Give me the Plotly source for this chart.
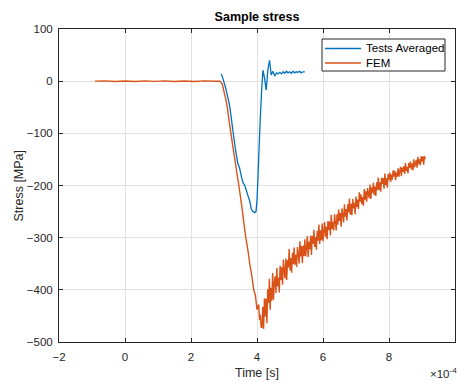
import numpy as np
import plotly.graph_objects as go

# ---- Data (time in units of 1e-4 s, stress in MPa) ----
TIME_SCALE = 1e-4

# FEM: quiet pre-load segment and loading ramp
fem_head_time = [-0.91, -0.6, -0.3, 0.0, 0.3, 0.6, 0.9, 1.2, 1.5, 1.8, 2.1, 2.4, 2.7, 2.88,
                 2.95, 3.0, 3.05, 3.1, 3.15, 3.21, 3.27, 3.33, 3.39, 3.45, 3.5, 3.56, 3.61,
                 3.66, 3.72, 3.78, 3.84, 3.9, 3.95, 4.0, 4.05, 4.08, 4.1, 4.125]
fem_head_stress = [0, 0.6, -0.5, 0.4, -0.6, 0.5, -0.4, 0.6, -0.5, 0.4, -0.6, 0.5, -0.3, 0,
                   -6, -20, -33, -50, -74, -100, -126, -150, -176, -200, -222, -250, -276,
                   -300, -322, -350, -372, -400, -410, -438, -428, -458, -448, -472]

# FEM: unloading response, sampled every 0.025e-4 s from 4.15e-4 s
FEM_TAIL_T0 = 4.15
FEM_TAIL_DT = 0.025
fem_tail_stress = [
    -472, -433, -475, -416, -451, -417, -464, -399, -425, -379,
    -438, -396, -421, -368, -419, -387, -374, -406, -358, -393,
    -377, -405, -354, -381, -357, -390, -342, -364, -378, -340,
    -381, -343, -357, -322, -363, -339, -367, -329, -351, -319,
    -352, -333, -356, -318, -331, -350, -307, -336, -316, -349,
    -315, -335, -303, -336, -319, -297, -337, -308, -322, -296,
    -333, -297, -312, -285, -318, -299, -323, -287, -306, -275,
    -312, -286, -305, -273, -307, -287, -270, -298, -279, -303,
    -268, -285, -269, -296, -256, -283, -270, -286, -255, -271,
    -286, -255, -275, -246, -268, -253, -279, -244, -257, -271,
    -236, -260, -245, -267, -236, -251, -225, -256, -235, -257,
    -226, -244, -233, -255, -221, -241, -227, -245, -213, -231,
    -217, -236, -222, -239, -207, -227, -211, -231, -205, -215,
    -224, -198, -226, -204, -214, -195, -218, -202, -220, -194,
    -209, -185, -209, -194, -212, -185, -197, -186, -206, -177,
    -199, -186, -204, -178, -189, -175, -193, -179, -189, -171,
    -183, -172, -190, -175, -183, -167, -183, -173, -164, -182,
    -166, -174, -163, -178, -157, -172, -164, -177, -157, -166,
    -154, -169, -158, -171, -150, -165, -158, -151, -166, -145,
    -159, -150, -161, -144, -154, -144, -160, -144, -149,
]

# Averaged test measurements
test_time = [2.92, 2.99, 3.05, 3.12, 3.17, 3.22, 3.27, 3.32, 3.37, 3.42, 3.47, 3.53, 3.58,
             3.63, 3.68, 3.73, 3.78, 3.83, 3.88, 3.93, 3.97, 4.00, 4.03, 4.06, 4.10, 4.14,
             4.18, 4.23, 4.28, 4.33, 4.38, 4.43, 4.48, 4.54, 4.59, 4.64, 4.69, 4.74, 4.79,
             4.84, 4.89, 4.94, 4.99, 5.04, 5.09, 5.14, 5.19, 5.24, 5.29, 5.34, 5.39, 5.45]
test_stress = [14, 0, -13, -32, -47, -70, -95, -118, -140, -158, -166, -184, -195,
               -200, -210, -220, -230, -246, -250, -252, -250, -228, -184, -133, -70, -19,
               21, 5, -17, 22, 40, 12, 19, 10, 16, 14, 17, 14, 18,
               15, 19, 16, 18, 15, 19, 16, 18, 17, 19, 16, 18, 18]

x_ticks = [-2, 0, 2, 4, 6, 8, 10]
y_ticks = [100, 0, -100, -200, -300, -400, -500]

# ---- Build series ----
fem_tail_time = FEM_TAIL_T0 + FEM_TAIL_DT * np.arange(len(fem_tail_stress))
fem_time = np.concatenate([fem_head_time, fem_tail_time]) * TIME_SCALE
fem_stress = np.concatenate([fem_head_stress, fem_tail_stress])
test_t = np.array(test_time) * TIME_SCALE

BLUE = "#0072BD"
ORANGE = "#D95319"
AX = "#262626"
FONT = "Liberation Sans, Arial, sans-serif"

fig = go.Figure()
fig.add_trace(go.Scatter(x=test_t / TIME_SCALE, y=test_stress, mode="lines",
                         name="Tests Averaged",
                         line=dict(color=BLUE, width=1.3, simplify=False)))
fig.add_trace(go.Scatter(x=fem_time / TIME_SCALE, y=fem_stress, mode="lines",
                         name="FEM",
                         line=dict(color=ORANGE, width=1.4, simplify=False)))

axis_common = dict(
    showline=True, linecolor=AX, linewidth=1, mirror="allticks",
    ticks="inside", ticklen=4, tickcolor=AX, tickwidth=1,
    showgrid=True, gridcolor="#e1e1e1", gridwidth=1, zeroline=False,
    tickfont=dict(family=FONT, size=11.5, color=AX),
)
fig.update_xaxes(range=[-2, 10], tickvals=x_ticks, ticklabelstandoff=4, **axis_common)
fig.update_yaxes(range=[-500, 100], tickvals=y_ticks, ticklabelstandoff=3, **axis_common)

# Legend box drawn in paper coordinates (plot area: x 59..455, y 29..342 px)
PW, PH = 396.0, 313.0
def px(x): return (x - 59) / PW
def py(y): return (342 - y) / PH

shapes = [
    dict(type="rect", xref="paper", yref="paper", x0=px(322), x1=px(445), y0=py(71), y1=py(39),
         line=dict(color=AX, width=1), fillcolor="white", layer="above"),
    dict(type="line", xref="paper", yref="paper", x0=px(325), x1=px(361), y0=py(48.5), y1=py(48.5),
         line=dict(color=BLUE, width=1.3), layer="above"),
    dict(type="line", xref="paper", yref="paper", x0=px(325), x1=px(361), y0=py(63), y1=py(63),
         line=dict(color=ORANGE, width=1.3), layer="above"),
]
annotations = [
    dict(text="Tests Averaged", xref="paper", yref="paper", x=px(364), y=py(48.5),
         xanchor="left", yanchor="middle", showarrow=False,
         font=dict(family=FONT, size=11.5, color="black")),
    dict(text="FEM", xref="paper", yref="paper", x=px(364), y=py(63),
         xanchor="left", yanchor="middle", showarrow=False,
         font=dict(family=FONT, size=11.5, color="black")),
    dict(text="Time [s]", xref="paper", yref="paper", x=0.5, y=py(372.5),
         xanchor="center", yanchor="middle", showarrow=False,
         font=dict(family=FONT, size=12.5, color=AX)),
    dict(text="Stress [MPa]", xref="paper", yref="paper", x=px(18), y=0.5, textangle=-90,
         xanchor="center", yanchor="middle", showarrow=False,
         font=dict(family=FONT, size=12.5, color=AX)),
    dict(text="\u00d710<sup>-4</sup>", xref="paper", yref="paper", x=px(459), y=py(373),
         xanchor="right", yanchor="middle", showarrow=False,
         font=dict(family=FONT, size=11.5, color=AX)),
]

fig.update_layout(
    width=460, height=383,
    margin=dict(l=59, r=5, t=29, b=41),
    paper_bgcolor="white", plot_bgcolor="white",
    showlegend=False,
    title=dict(text="<b>Sample stress</b>", x=0.5, xref="paper", y=1 - 17 / 383,
               yref="container", xanchor="center", yanchor="middle",
               font=dict(family=FONT, size=12.5, color="black")),
    shapes=shapes, annotations=annotations,
)

fig.write_html("out.html")
